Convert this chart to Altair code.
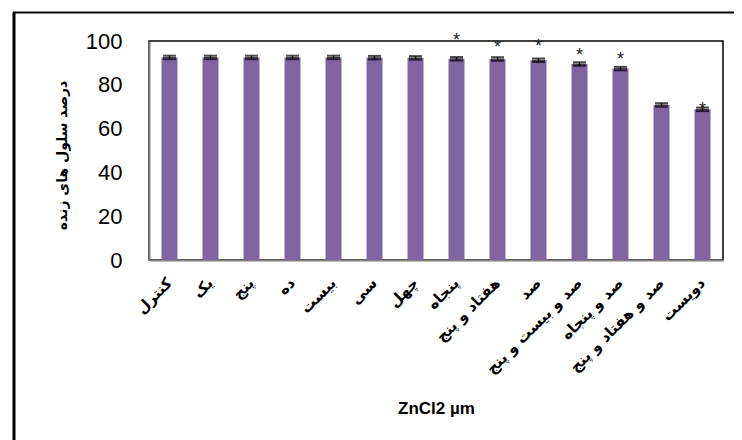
import altair as alt
import pandas as pd

categories = ["کنترل", "یک", "پنج", "ده", "بیست", "سی", "چهل", "پنجاه",
              "هفتاد و پنج", "صد", "صد و بیست و پنج", "صد و پنجاه",
              "صد و هفتاد و پنج", "دویست"]
viability = [92.5, 92.5, 92.5, 92.5, 92.5, 92.4, 92.3, 91.9, 91.8, 91.2,
             89.5, 87.4, 70.8, 68.8]
errors = [0.8, 0.8, 0.8, 0.8, 0.8, 0.8, 0.8, 0.8, 0.8, 0.8, 0.8, 0.8, 0.8, 0.8]
star_categories = ["پنجاه", "هفتاد و پنج", "صد", "صد و بیست و پنج",
                   "صد و پنجاه", "دویست"]
star_positions = [101.7, 98.6, 99.2, 94.8, 93.3, 70.3]

df = pd.DataFrame({"cat": categories, "v": viability, "e": errors})
df["lo"] = df["v"] - df["e"]
df["hi"] = df["v"] + df["e"]
stars = pd.DataFrame({"cat": star_categories, "s": star_positions, "t": ["*"] * len(star_categories)})

xenc = alt.X("cat:N", sort=categories, title="ZnCl2 µm",
             scale=alt.Scale(paddingInner=0.0, paddingOuter=0.0),
             axis=alt.Axis(labelAngle=-45, labelAlign="right", labelBaseline="middle",
                           labelFont="DejaVu Sans", labelFontWeight="bold", labelFontSize=15,
                           labelColor="#000", labelPadding=20, ticks=False,
                           domainColor="#808080", domainWidth=2,
                           titleFont="Liberation Sans", titleFontWeight="bold",
                           titleFontSize=17, titleColor="#000",
                           titleY=148, titleBaseline="middle"))

bars = alt.Chart(df).mark_bar(size=16, color="#8064A2").encode(
    x=xenc,
    y=alt.Y("v:Q", scale=alt.Scale(domain=[0, 100]),
            title="درصد سلول های زنده",
            axis=alt.Axis(values=[0, 20, 40, 60, 80, 100], grid=False, ticks=False,
                          labelFont="Liberation Sans", labelFontSize=22, labelColor="#000",
                          labelPadding=27, domainColor="#808080", domainWidth=2,
                          titleFont="DejaVu Sans", titleFontWeight="bold",
                          titleFontSize=14, titleColor="#000",
                          titleX=-87, titleY=114, titleAngle=-90,
                          titleAlign="center", titleBaseline="middle")),
)

err_rule = alt.Chart(df).mark_rule(color="#000", strokeWidth=1.5).encode(
    x=alt.X("cat:N", sort=categories), y="lo:Q", y2="hi:Q")
err_lo = alt.Chart(df).mark_tick(color="#000", size=13, thickness=2).encode(
    x=alt.X("cat:N", sort=categories), y="lo:Q")
err_hi = alt.Chart(df).mark_tick(color="#000", size=13, thickness=2).encode(
    x=alt.X("cat:N", sort=categories), y="hi:Q")
err_mid = alt.Chart(df).mark_tick(color="#000", size=13, thickness=1).encode(
    x=alt.X("cat:N", sort=categories), y="v:Q")

star_text = alt.Chart(stars).mark_text(font="Liberation Sans", fontSize=18, color="#222",
                                       baseline="middle", dy=4).encode(
    x=alt.X("cat:N", sort=categories), y="s:Q", text="t:N")

frame = pd.DataFrame({"k": [0]})
left_line = alt.Chart(frame).mark_rule(color="#000", strokeWidth=3).encode(
    x=alt.value(-135), y=alt.value(-29), y2=alt.value(420))
top_line = alt.Chart(frame).mark_rule(color="#000", strokeWidth=2).encode(
    x=alt.value(-136), x2=alt.value(600), y=alt.value(-28.5))

chart = alt.layer(bars, err_rule, err_lo, err_hi, err_mid, star_text, left_line, top_line).properties(
    width=574, height=219,
    autosize=alt.AutoSizeParams(type="none"),
    padding={"left": 141, "top": 33, "right": 11, "bottom": 180},
    background="white",
).configure_view(stroke="#000", strokeWidth=1.5)

chart.save("out.html", embed_options={"renderer": "svg", "actions": False})
